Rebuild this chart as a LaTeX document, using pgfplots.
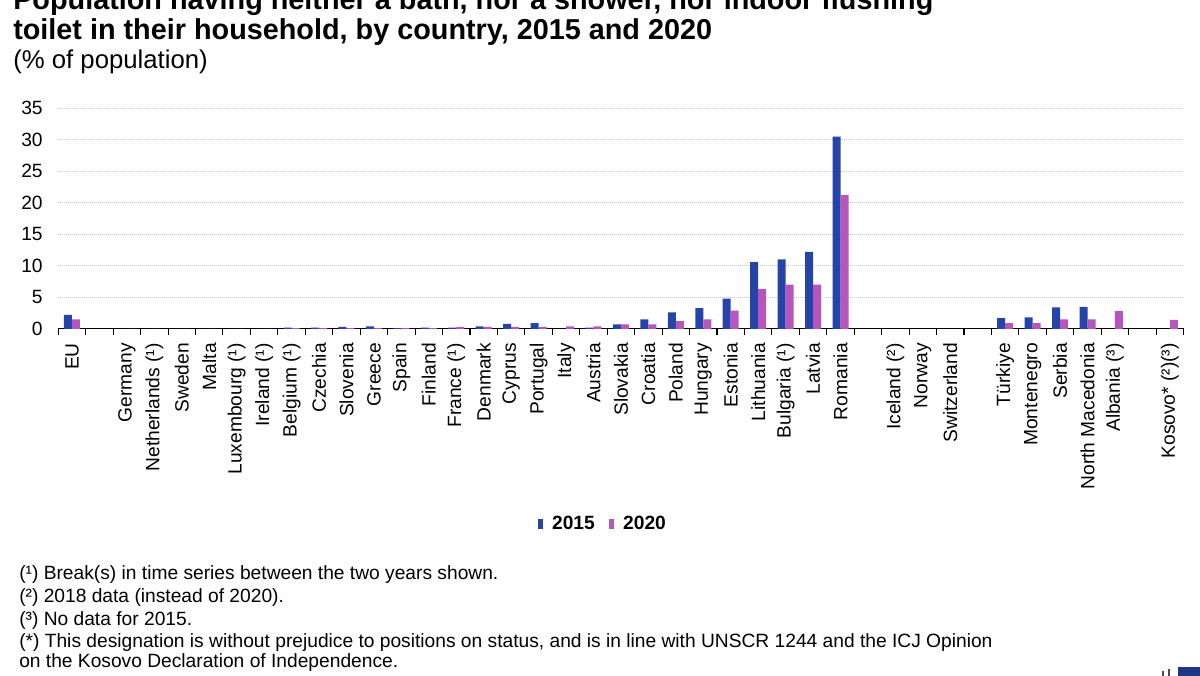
\documentclass[border=0pt]{standalone}
\usepackage{fontspec}
\setmainfont{Liberation Sans}
\usepackage{pgfplots}
\pgfplotsset{compat=1.18}
\definecolor{cblue}{HTML}{2644A7}
\definecolor{cpink}{HTML}{B656BD}
\newcommand{\smallf}{\fontsize{14.4}{17}\selectfont}
\begin{document}
\begin{tikzpicture}
\useasboundingbox (0,0) rectangle (900pt,-506.25pt);
\clip (0,0) rectangle (900pt,-506.25pt);
\begin{scope}[x=0.75pt,y=-0.75pt]
\node[anchor=base west,inner sep=0pt,font=\bfseries\fontsize{21.6}{25}\selectfont] at (13,9) {Population having neither a bath, nor a shower, nor indoor flushing};
\node[anchor=base west,inner sep=0pt,font=\bfseries\fontsize{21.6}{25}\selectfont] at (13,39.5) {toilet in their household, by country, 2015 and 2020};
\node[anchor=base west,inner sep=0pt,font=\fontsize{19.3}{23}\selectfont] at (13,68.5) {(\% of population)};
\node[anchor=base west,inner sep=0pt,font=\smallf] at (19,579) {(¹) Break(s) in time series between the two years shown.};
\node[anchor=base west,inner sep=0pt,font=\smallf] at (19,602) {(²) 2018 data (instead of 2020).};
\node[anchor=base west,inner sep=0pt,font=\smallf] at (19,625) {(³) No data for 2015.};
\node[anchor=base west,inner sep=0pt,font=\smallf] at (19,647) {(*) This designation is without prejudice to positions on status, and is in line with UNSCR 1244 and the ICJ Opinion};
\node[anchor=base west,inner sep=0pt,font=\smallf] at (19,667) {on the Kosovo Declaration of Independence.};
\fill[cblue!80!black] (1178,667) rectangle (1200,676);
\fill[black!70] (1162,671) rectangle (1164,676);
\fill[black!70] (1168,669) rectangle (1170,676);
\end{scope}
\begin{axis}[
  at={(43.7pt,-246.6pt)}, anchor=south west,
  width=844pt, height=165.4pt, scale only axis,
  xmin=-0.5, xmax=40.5, ymin=0, ymax=35,
  axis x line*=bottom, axis y line*=left,
  y axis line style={draw=none},
  x axis line style={black, line width=0.8pt},
  ybar=0pt, bar width=6pt,
  ytick={0,5,...,35},
  xtick={0,...,40},
  minor xtick={-0.5,0.5,...,40.5},
  xticklabels={{EU},{},{Germany},{Netherlands (¹)},{Sweden},{Malta},{Luxembourg (¹)},{Ireland (¹)},{Belgium (¹)},{Czechia},{Slovenia},{Greece},{Spain},{Finland},{France (¹)},{Denmark},{Cyprus},{Portugal},{Italy},{Austria},{Slovakia},{Croatia},{Poland},{Hungary},{Estonia},{Lithuania},{Bulgaria (¹)},{Latvia},{Romania},{},{Iceland (²)},{Norway},{Switzerland},{},{Türkiye},{Montenegro},{Serbia},{North Macedonia},{Albania (³)},{},{Kosovo* (²)(³)}},
  tick align=outside,
  major tick length=0pt,
  minor tick length=4.5pt,
  minor tick style={black, line width=0.8pt},
  xticklabel style={rotate=90, anchor=east, inner sep=0pt, font=\smallf},
  xticklabel shift=10.6pt,
  yticklabel style={anchor=east, inner sep=0pt, font=\smallf},
  yticklabel shift=11.5pt,
  /pgf/number format/assume math mode=true,
  ymajorgrids,
  major grid style={gray!45, dash pattern=on 0.75pt off 0.75pt, line width=0.6pt},
  legend style={at={(axis description cs:0.4845,-0.885)}, anchor=center, draw=none, fill=none,
    legend columns=2, font=\bfseries\fontsize{14.4}{16}\selectfont, inner sep=0pt,
    /tikz/every odd column/.append style={column sep=4.5pt},
    /tikz/every even column/.append style={column sep=9pt}},
]
\addplot[fill=cblue, draw=none, legend image code/.code={\fill[cblue] (0pt,-3.75pt) rectangle (3.75pt,3.75pt);}] coordinates {
(0,2.2) (2,0.0) (3,0.0) (4,0.0) (5,0.0) (6,0.0) (7,0.0) (8,0.2) (9,0.2) (10,0.3) (11,0.4) (12,0.1) (13,0.2)
(14,0.2) (15,0.4) (16,0.8) (17,0.9) (18,0.0) (19,0.2) (20,0.7) (21,1.5) (22,2.6) (23,3.3) (24,4.8)
(25,10.6) (26,11.0) (27,12.2) (28,30.5) (34,1.7) (35,1.8) (36,3.4) (37,3.5)
};
\addplot[fill=cpink, draw=none, legend image code/.code={\fill[cpink] (0pt,-3.75pt) rectangle (3.75pt,3.75pt);}] coordinates {
(0,1.5) (2,0.0) (3,0.0) (4,0.0) (5,0.0) (6,0.0) (7,0.0) (8,0.1) (9,0.1) (10,0.1) (11,0.1) (12,0.1) (13,0.1)
(14,0.3) (15,0.3) (16,0.3) (17,0.3) (18,0.4) (19,0.4) (20,0.7) (21,0.7) (22,1.2) (23,1.5) (24,2.9)
(25,6.3) (26,7.0) (27,7.0) (28,21.2) (34,0.9) (35,0.9) (36,1.5) (37,1.5) (38,2.8) (40,1.4)
};
\legend{2015,2020}
\end{axis}
\end{tikzpicture}
\end{document}
